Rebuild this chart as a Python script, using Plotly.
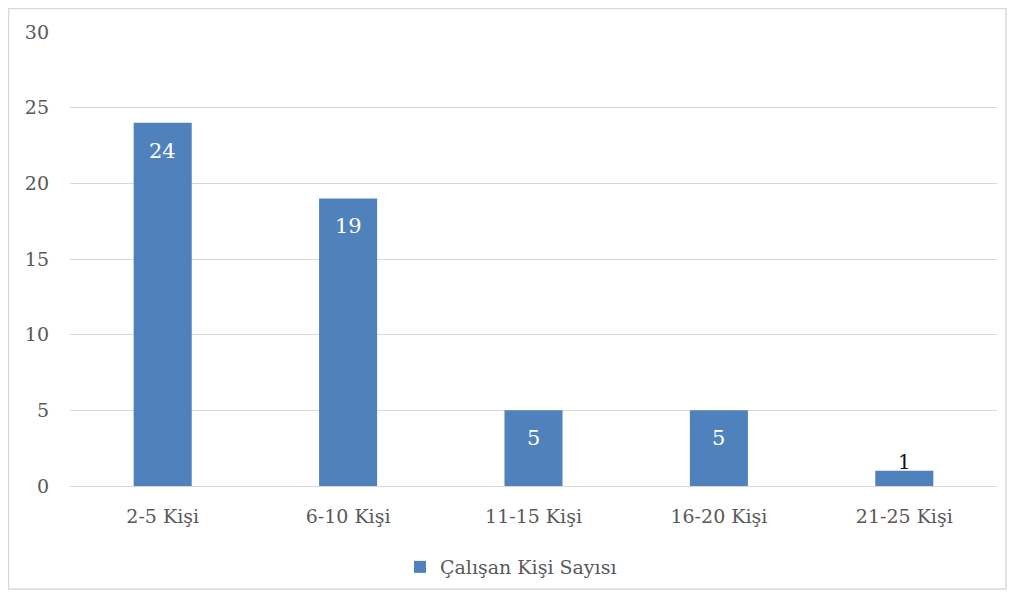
import plotly.graph_objects as go

categories = ["2-5 Kişi", "6-10 Kişi", "11-15 Kişi", "16-20 Kişi", "21-25 Kişi"]
values = [24, 19, 5, 5, 1]
series_name = "Çalışan Kişi Sayısı"
y_ticks = [0, 5, 10, 15, 20, 25, 30]

FONT = "DejaVu Serif"
BLUE = "#4F81BD"
GREY = "#595959"

fig = go.Figure()
fig.add_trace(go.Bar(
    x=categories, y=values, name=series_name,
    marker=dict(color=BLUE, line=dict(width=0)),
    width=0.313,
    showlegend=True,
))

# data labels
for c, v in zip(categories, values):
    inside = v >= 3
    fig.add_annotation(
        x=c, y=v, text=str(v), showarrow=False,
        yanchor="top" if inside else "bottom",
        yshift=-14 if inside else -5,
        font=dict(family=FONT, size=21 if inside else 20,
                  color="white" if inside else "#111111"),
    )

W, H = 999, 582
ml, mr, mt, mb = 62, 10, 24, 104
pw, ph = W - ml - mr, H - mt - mb

def px_x(p):
    return (p - ml) / pw

def px_y(p):
    return (H - mb - p) / ph

fig.add_shape(type="rect", xref="paper", yref="paper",
              x0=px_x(0.5), x1=px_x(W - 1), y0=px_y(H - 1), y1=px_y(0.5),
              line=dict(color="#d9d9d9", width=1.5), fillcolor="rgba(0,0,0,0)", layer="below")

fig.update_layout(
    width=W, height=H,
    margin=dict(l=ml, r=mr, t=mt, b=mb, autoexpand=False),
    paper_bgcolor="white", plot_bgcolor="white",
    font=dict(family=FONT, size=19, color=GREY),
    legend=dict(orientation="h", xref="container", yref="container",
                x=503 / W, xanchor="center", y=(H - 559) / H, yanchor="middle",
                font=dict(family=FONT, size=19, color=GREY), itemwidth=30),
    xaxis=dict(showgrid=False, showline=True, linecolor="#d9d9d9", linewidth=1,
               ticks="", tickfont=dict(family=FONT, size=19, color=GREY),
               ticklabelstandoff=13, automargin=False),
    yaxis=dict(range=[0, 30], tickvals=y_ticks, showgrid=True, gridcolor="#d9d9d9",
               gridwidth=1, zeroline=False, showline=False, ticks="",
               tickfont=dict(family=FONT, size=19, color=GREY),
               ticklabelstandoff=20, automargin=False),
)

fig.write_html("out.html")
